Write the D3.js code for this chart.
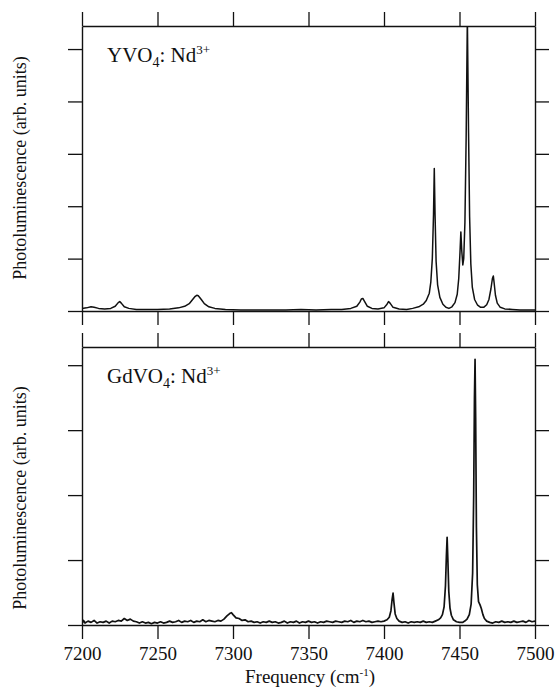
<!DOCTYPE html>
<html>
<head>
<meta charset="utf-8">
<script src="https://cdn.jsdelivr.net/npm/d3@7"></script>
<style>
  body { margin: 0; background: #fff; }
  svg { display: block; font-family: "Liberation Serif", "Times New Roman", serif; }
</style>
</head>
<body>
<svg id="chart" width="558" height="689"></svg>
<script>
// x axis ticks (cm^-1)
const freqTicks = [7200, 7250, 7300, 7350, 7400, 7450, 7500];

// YVO4:Nd3+ spectrum, [frequency, intensity]
const yvo4Spectrum = [
  [7200, 0.05], [7203, 0.06], [7206, 0.08], [7208, 0.07], [7211, 0.05], [7215, 0.04],
  [7219, 0.05], [7222, 0.09], [7224, 0.16], [7225, 0.18], [7226, 0.15], [7228, 0.08],
  [7231, 0.05], [7236, 0.03], [7242, 0.03], [7250, 0.03], [7258, 0.04], [7264, 0.06],
  [7268, 0.09], [7271, 0.14], [7273, 0.21], [7275, 0.28], [7276, 0.30], [7277, 0.29],
  [7279, 0.22], [7281, 0.14], [7284, 0.08], [7288, 0.05], [7295, 0.03], [7305, 0.02],
  [7315, 0.02], [7325, 0.02], [7335, 0.02], [7345, 0.03], [7355, 0.02], [7365, 0.03],
  [7372, 0.03], [7378, 0.05], [7382, 0.09], [7384, 0.17], [7385, 0.23], [7386, 0.24],
  [7387, 0.19], [7389, 0.09], [7392, 0.05], [7396, 0.04], [7400, 0.06], [7402, 0.13],
  [7403, 0.18], [7404, 0.15], [7406, 0.07], [7410, 0.04], [7415, 0.03], [7419, 0.05],
  [7423, 0.08], [7426, 0.13], [7428, 0.20], [7430, 0.34], [7431, 0.55], [7432, 1.00],
  [7432.8, 1.85], [7433.3, 2.72], [7433.8, 1.85], [7434.5, 0.95], [7435.5, 0.50], [7437, 0.26],
  [7439, 0.13], [7441, 0.07], [7443, 0.05], [7445, 0.08], [7447, 0.16], [7448.5, 0.32],
  [7449.5, 0.62], [7450.3, 1.10], [7450.9, 1.51], [7451.5, 1.15], [7452.2, 0.88], [7452.8, 1.00],
  [7453.6, 1.70], [7454.4, 3.30], [7455.2, 5.60], [7456, 3.40], [7456.7, 1.80], [7457.5, 0.90],
  [7458.5, 0.45], [7460, 0.22], [7462, 0.11], [7464, 0.07], [7466, 0.07], [7468, 0.12],
  [7469.5, 0.22], [7470.8, 0.42], [7471.8, 0.62], [7472.4, 0.67], [7473, 0.52], [7473.8, 0.30],
  [7475, 0.15], [7477, 0.07], [7480, 0.04], [7485, 0.03], [7490, 0.02], [7495, 0.02],
  [7500, 0.02]
];

// GdVO4:Nd3+ spectrum, [frequency, intensity]
const gdvo4Spectrum = [
  [7200, 0.02], [7201, 0.07], [7202, 0.03], [7204, 0.06], [7206, 0.04], [7208, 0.07],
  [7210, 0.03], [7212, 0.05], [7214, 0.04], [7216, 0.06], [7218, 0.03], [7220, 0.06],
  [7222, 0.05], [7224, 0.07], [7226, 0.06], [7228, 0.10], [7230, 0.07], [7232, 0.09],
  [7234, 0.06], [7236, 0.05], [7238, 0.03], [7240, 0.05], [7242, 0.03], [7244, 0.04],
  [7246, 0.02], [7248, 0.04], [7250, 0.03], [7252, 0.05], [7254, 0.03], [7256, 0.04],
  [7258, 0.06], [7260, 0.04], [7262, 0.05], [7264, 0.07], [7266, 0.04], [7268, 0.06],
  [7270, 0.05], [7272, 0.07], [7274, 0.04], [7276, 0.06], [7278, 0.05], [7280, 0.08],
  [7282, 0.05], [7284, 0.07], [7286, 0.06], [7288, 0.05], [7290, 0.07], [7292, 0.06],
  [7294, 0.09], [7296, 0.14], [7298, 0.18], [7299, 0.19], [7300, 0.16], [7302, 0.11],
  [7304, 0.10], [7306, 0.07], [7308, 0.08], [7310, 0.05], [7312, 0.06], [7314, 0.04],
  [7316, 0.05], [7318, 0.03], [7320, 0.05], [7322, 0.04], [7324, 0.06], [7326, 0.04],
  [7328, 0.05], [7330, 0.03], [7332, 0.04], [7334, 0.06], [7336, 0.03], [7338, 0.05],
  [7340, 0.04], [7342, 0.06], [7344, 0.03], [7346, 0.05], [7348, 0.04], [7350, 0.06],
  [7352, 0.04], [7354, 0.05], [7356, 0.03], [7358, 0.05], [7360, 0.04], [7362, 0.06],
  [7364, 0.05], [7366, 0.04], [7368, 0.06], [7370, 0.05], [7372, 0.04], [7374, 0.06],
  [7376, 0.05], [7378, 0.07], [7380, 0.04], [7382, 0.06], [7384, 0.05], [7386, 0.07],
  [7388, 0.05], [7390, 0.06], [7392, 0.04], [7394, 0.05], [7396, 0.06], [7398, 0.05],
  [7400, 0.06], [7402, 0.08], [7403.5, 0.12], [7404.6, 0.22], [7405.4, 0.40], [7406, 0.49],
  [7406.6, 0.34], [7407.4, 0.17], [7408.5, 0.10], [7410, 0.06], [7412, 0.04], [7414, 0.05],
  [7416, 0.03], [7418, 0.05], [7420, 0.04], [7422, 0.05], [7424, 0.04], [7426, 0.06],
  [7428, 0.04], [7430, 0.05], [7432, 0.04], [7434, 0.06], [7436, 0.08], [7437.5, 0.11],
  [7438.7, 0.16], [7439.8, 0.28], [7440.7, 0.60], [7441.3, 1.05], [7441.8, 1.35], [7442.3, 1.00],
  [7442.9, 0.52], [7443.7, 0.26], [7444.6, 0.15], [7446, 0.08], [7448, 0.05], [7450, 0.04],
  [7452, 0.04], [7453.5, 0.06], [7455, 0.09], [7456.5, 0.16], [7457.7, 0.32], [7458.7, 0.80],
  [7459.4, 2.00], [7459.9, 3.50], [7460.3, 4.09], [7460.7, 3.20], [7461.2, 1.50], [7461.8, 0.62],
  [7462.6, 0.36], [7463.6, 0.31], [7464.5, 0.25], [7465.5, 0.16], [7466.5, 0.10], [7468, 0.06],
  [7470, 0.04], [7472, 0.03], [7474, 0.05], [7476, 0.04], [7478, 0.06], [7480, 0.04],
  [7482, 0.05], [7484, 0.04], [7486, 0.06], [7488, 0.04], [7490, 0.05], [7492, 0.06],
  [7494, 0.04], [7496, 0.07], [7498, 0.05], [7500, 0.06]
];

const yvo4Ticks = [0, 1, 2, 3, 4, 5];
const gdvo4Ticks = [0, 1, 2, 3, 4];

const svg = d3.select('#chart');
const left = 82, right = 535;
const tickLen = 14;

const x = d3.scaleLinear().domain([7200, 7500]).range([left, right]);

// one framed panel with ticks on all four sides
function drawPanel(cfg) {
  const y = d3.scaleLinear().domain([0, cfg.yMax]).range([cfg.bottom, cfg.top]);
  const g = svg.append('g');

  g.append('clipPath').attr('id', cfg.id)
    .append('rect')
    .attr('x', left).attr('y', cfg.top)
    .attr('width', right - left).attr('height', cfg.bottom - cfg.top);

  g.append('path')
    .datum(cfg.data)
    .attr('clip-path', `url(#${cfg.id})`)
    .attr('fill', 'none')
    .attr('stroke', '#111')
    .attr('stroke-width', cfg.lineWidth)
    .attr('stroke-linejoin', 'round')
    .attr('d', d3.line().x(d => x(d[0])).y(d => y(d[1])));

  const axes = [
    d3.axisTop(x).tickValues(freqTicks).tickFormat('').tickSizeOuter(0).tickSizeInner(tickLen),
    d3.axisBottom(x).tickValues(freqTicks).tickFormat(cfg.showLabels ? d3.format('d') : '').tickSizeOuter(0).tickSizeInner(tickLen).tickPadding(8),
    d3.axisLeft(y).tickValues(cfg.ticks).tickFormat('').tickSizeOuter(0).tickSizeInner(tickLen),
    d3.axisRight(y).tickValues(cfg.ticks).tickFormat('').tickSizeOuter(0).tickSizeInner(tickLen)
  ];
  const shifts = [`0,${cfg.top}`, `0,${cfg.bottom}`, `${left},0`, `${right},0`];
  axes.forEach((ax, i) => {
    const a = g.append('g').attr('transform', `translate(${shifts[i]})`).call(ax);
    a.select('.domain').attr('stroke', '#111').attr('stroke-width', 1.4);
    a.selectAll('.tick line').attr('stroke', '#111').attr('stroke-width', 1.3);
    a.selectAll('.tick text').attr('fill', '#111').style('font-size', '19px')
      .style('font-family', '"Liberation Serif", serif');
  });

  // sample label
  const t = g.append('text')
    .attr('x', 107).attr('y', cfg.top + 36)
    .attr('fill', '#111').style('font-size', '21px');
  t.append('tspan').text(cfg.host);
  t.append('tspan').attr('dy', 5).style('font-size', '14px').text('4');
  t.append('tspan').attr('dy', -5).text(': Nd');
  t.append('tspan').attr('dy', -8).style('font-size', '13px').text('3+');

  // y title
  g.append('text')
    .attr('transform', `translate(26,${cfg.labelY}) rotate(-90)`)
    .attr('text-anchor', 'middle')
    .attr('fill', '#111').style('font-size', '18px')
    .text('Photoluminescence (arb. units)');
}

drawPanel({ id: 'clipTop', data: yvo4Spectrum, top: 26, bottom: 311, yMax: 5.44,
  ticks: yvo4Ticks, host: 'YVO', labelY: 168, lineWidth: 1.5, showLabels: false });
drawPanel({ id: 'clipBottom', data: gdvo4Spectrum, top: 347, bottom: 625, yMax: 4.28,
  ticks: gdvo4Ticks, host: 'GdVO', labelY: 498, lineWidth: 1.7, showLabels: true });

// x title
const xt = svg.append('text')
  .attr('x', 310).attr('y', 683)
  .attr('text-anchor', 'middle')
  .attr('fill', '#111').style('font-size', '19px');
xt.append('tspan').text('Frequency (cm');
xt.append('tspan').attr('dy', -7).style('font-size', '11px').text('-1');
xt.append('tspan').attr('dy', 7).text(')');
</script>
</body>
</html>
